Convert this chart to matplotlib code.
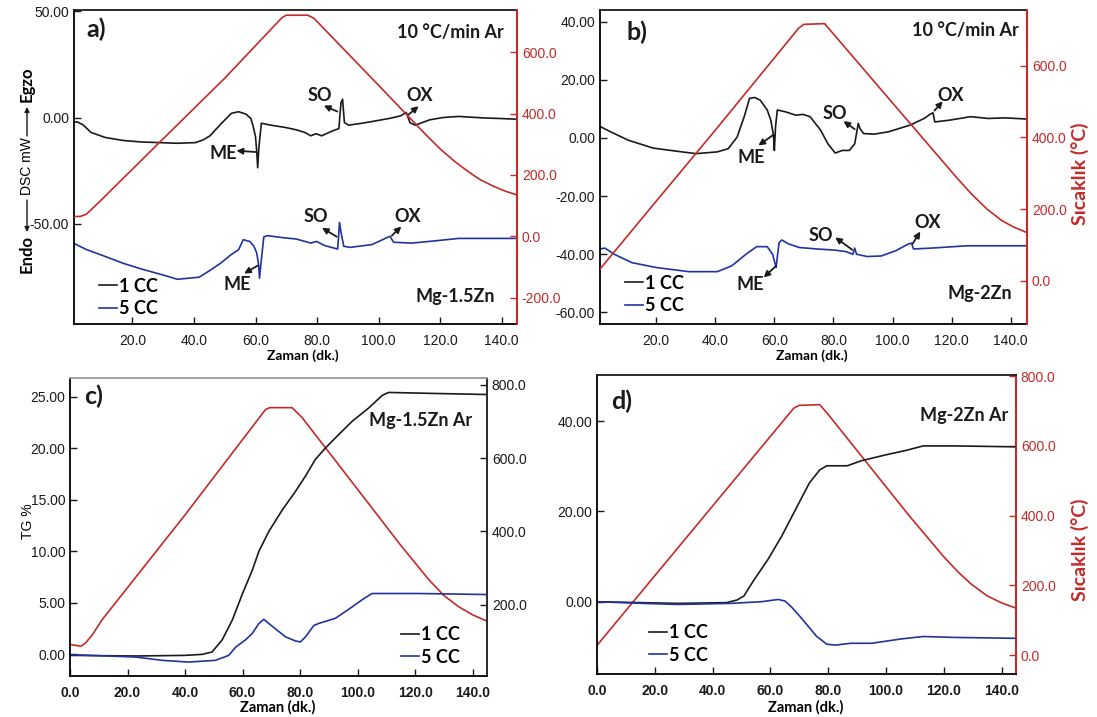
import matplotlib
matplotlib.use("Agg")
import matplotlib.pyplot as plt
from matplotlib.font_manager import FontProperties

# ---------------- DATA ----------------
# Panel a: Mg-1.5Zn DSC
a_temp_t = [1, 3, 5, 10, 30, 50, 68.6, 70, 77, 79, 100, 115, 120, 125, 130, 133, 137, 141, 145]
a_temp_v = [65, 65, 72, 120, 318, 515, 712, 720, 720, 710, 492, 335, 285, 242, 205, 185, 165, 148, 135]

a_cc1_t = [0.8, 2, 4, 6.5, 11.2, 17, 23, 34.6, 40.5, 43, 45.2, 48.7, 52.2, 54.5, 56.9, 58.5, 59.2, 60.0, 60.4, 60.7,
           61.1, 61.9, 65, 69.8, 73.3, 76, 78, 79.7, 81.5, 85, 87.1, 87.5, 87.8, 88.3, 88.9, 90.3, 95, 99, 104,
           107.2, 109, 110.2, 111.9, 116.6, 121, 126, 134.2, 140, 145]
a_cc1_v = [-2.4, -2.0, -3.5, -7, -9.4, -10.8, -11.5, -12.1, -11.8, -10.5, -8.6, -3.1, 2.0, 2.7, 1.6, -0.5, -3.9, -9,
           -16, -23.6, -14, -2.7, -3.6, -4.7, -5.8, -7, -8.6, -7.6, -8.6, -6.3, -5.2, 2, 7, 8.6, -2.4, -3.6, -2.6,
           -1.6, -0.3, 0.8, 2.4, -2.4, -3.6, -1.1, 0, 0.5, -0.2, -0.5, -0.8]

a_cc5_t = [0.8, 5, 11.2, 17, 23, 30, 34.6, 41.7, 45, 48.7, 52, 54.5, 55.5, 56, 58.1, 59.5, 60.4, 61.0, 61.3, 61.9,
           62.7, 63.9, 68.6, 73.3, 78, 79.8, 82.6, 86.7, 87.0, 87.3, 87.8, 88.7, 90.8, 97.8, 101.9, 103.7, 104.9,
           110.7, 118, 126, 135, 145]
a_cc5_v = [-59, -62, -65.3, -68.5, -71.2, -74, -76, -75, -72, -68.4, -64.5, -62.1, -59, -57.4, -58.2, -60.5, -63.7,
           -69, -75.5, -66.8, -56.1, -55.5, -56.4, -57.1, -59, -58.2, -60.2, -61.8, -56, -49.3, -54, -60.5, -61,
           -59.7, -57, -55.8, -58.6, -59, -58, -56.8, -56.8, -56.8]

# Panel b: Mg-2Zn DSC
b_temp_t = [0.9, 20, 40, 68.3, 70, 77, 100, 122, 127, 132, 137, 141, 145.4]
b_temp_v = [32, 222, 420, 705, 715, 717, 496, 285, 240, 200, 168, 150, 135]

b_cc1_t = [0.9, 4.6, 10.6, 19, 28.7, 33.5, 40.7, 44.4, 47.4, 49.8, 51.6, 53.4, 55.2, 57.6, 58.8, 59.7, 60.0, 60.4,
           61.0, 63.7, 67.3, 69.7, 72.1, 75.7, 78.1, 80.6, 83, 85.4, 87.2, 88.4, 89, 90.2, 93.8, 98.6, 105.9, 110.7,
           113.1, 113.7, 114.3, 119.2, 126.4, 132.4, 138, 145.4]
b_cc1_v = [4, 2.1, -0.8, -3.5, -4.8, -5.4, -4.8, -3.7, 0.3, 7.3, 13.6, 13.9, 13, 9.6, 6.1, 0.9, -4.3, 3.8, 9.6, 9,
           7.8, 8.1, 7.3, 2.6, -2, -5.2, -4.3, -4.3, -2, 5, 3.2, 1.5, 1.3, 2.1, 4.4, 6.7, 8.4, 8.6, 5.5, 6.1, 7.3,
           6.7, 6.9, 6.5]

b_cc5_t = [0.9, 2.7, 5.8, 11.8, 20.2, 31.1, 40.7, 45.6, 50.4, 54, 57.6, 59.4, 60.6, 61.0, 61.6, 62.5, 64.9, 68.5,
           74.5, 80.6, 84.2, 86.6, 87.2, 87.8, 91.4, 96.2, 101.1, 105.3, 106.4, 107.1, 113.1, 125.2, 135, 145.4]
b_cc5_v = [-38.2, -37.9, -40, -42.9, -44.6, -46, -46, -44, -40, -37.4, -37.4, -40, -44.6, -41, -36, -35.1, -36.5,
           -37.7, -38.2, -38.6, -39.1, -40, -37.9, -40, -40.8, -40.6, -38.8, -36.5, -36.2, -38.2, -37.9, -37.1,
           -37.1, -37.1]

# Panel c: Mg-1.5Zn TG
c_temp_t = [0, 2.5, 3.7, 5.4, 7.8, 11.2, 40, 68, 69.5, 77.2, 80.7, 100, 115, 125, 130, 135, 140, 145]
c_temp_v = [91, 88, 86, 95, 118, 159, 445, 733, 738, 738, 711, 515, 362, 266, 225, 195, 172, 155]

c_cc1_t = [0, 22.8, 40, 46, 49.4, 52.9, 56.4, 60, 63.3, 65.7, 69.1, 73.8, 78.4, 81.9, 85.3, 88.8, 92.3, 98.1,
           103.9, 108.5, 110.8, 127, 145]
c_cc1_v = [-0.1, -0.16, -0.1, 0, 0.23, 1.4, 3.3, 5.9, 8.1, 10, 11.9, 14, 15.8, 17.3, 18.9, 20, 21, 22.6, 23.9,
           25.1, 25.4, 25.3, 25.2]

c_cc5_t = [0, 22.8, 32, 41.3, 50.6, 55.2, 57.6, 61, 63.3, 65.7, 67.4, 69.1, 74.9, 78.4, 80.1, 81.9, 84.8, 86.5,
           92.3, 98.1, 101.6, 105, 121.3, 145]
c_cc5_v = [-0.03, -0.26, -0.58, -0.75, -0.58, -0.1, 0.7, 1.4, 2.0, 3.0, 3.4, 3.0, 1.7, 1.3, 1.2, 1.7, 2.8, 3.0,
           3.5, 4.6, 5.3, 5.9, 5.9, 5.8]

# Panel d: Mg-2Zn TG
d_temp_t = [0, 68.1, 70, 77.1, 80, 108, 120, 125, 129.6, 135, 140, 144.6]
d_temp_v = [28, 708, 716, 718, 690, 400, 282, 238, 203, 170, 150, 136]

d_cc1_t = [0, 28, 44.8, 48.4, 50.8, 54.4, 59.1, 63.9, 68.7, 73.5, 77.1, 79.5, 86.6, 91.4, 99.8, 106.9, 112.9,
           123.7, 144.6]
d_cc1_v = [0, -0.37, -0.2, 0.37, 1.25, 4.9, 9.3, 14.5, 20.4, 26.3, 29.2, 30.1, 30.1, 31.2, 32.5, 33.5, 34.5,
           34.5, 34.3]

d_cc5_t = [0, 16.1, 28, 46, 56.8, 62.7, 65.1, 67.5, 71.1, 75.9, 79.5, 82.4, 87.8, 95, 105.7, 112.9, 123.7, 144.6]
d_cc5_v = [0, -0.37, -0.6, -0.37, 0, 0.5, 0.15, -1.3, -3.9, -7.6, -9.4, -9.6, -9.2, -9.2, -8.2, -7.7, -7.9, -8.1]

series_labels = ["1 CC", "5 CC"]
ab_xticks = [20, 40, 60, 80, 100, 120, 140]
cd_xticks = [0, 20, 40, 60, 80, 100, 120, 140]

# ---------------- STYLE ----------------
BLACK = "#1a1a1a"
BLUE = "#2233a0"
RED = "#c42a2a"
TFONT = "Liberation Sans"
AFONT = "Lato"
ASIZE = 13

plt.rcParams["font.family"] = [TFONT, "DejaVu Sans"]
fig = plt.figure(figsize=(10.97, 7.17), dpi=100)
W, H = 1097.0, 717.0


def make_axes(l, r, t, b):
    return fig.add_axes([l / W, 1 - b / H, (r - l) / W, (b - t) / H])


def style_axes(ax, ax2, right_color, xticks, bold_x, top_color=BLACK):
    ax.tick_params(direction="in", length=5, width=1, labelsize=10, colors=BLACK)
    ax2.tick_params(direction="in", length=5, width=1, labelsize=10, colors=right_color)
    ax.spines["right"].set_visible(False)
    ax2.spines["left"].set_visible(False)
    ax2.spines["top"].set_visible(False)
    ax2.spines["bottom"].set_visible(False)
    ax2.spines["right"].set_color(right_color)
    ax2.spines["right"].set_linewidth(1.5)
    for s in ["left", "bottom", "top"]:
        ax.spines[s].set_linewidth(1.3)
    ax.spines["top"].set_color(top_color)
    ax.set_xticks(xticks)
    ax.set_xticklabels([f"{v:.1f}" for v in xticks],
                       fontweight="bold" if bold_x else "normal")
    ax.tick_params(axis="x", pad=7)


def add_legend(ax, x, y):
    fp = FontProperties(family=AFONT, weight="bold", size=13)
    leg = ax.legend(series_labels, loc="lower left", bbox_to_anchor=(x, y), frameon=False,
                    handlelength=1.0, handletextpad=0.1, labelspacing=0.3, prop=fp)
    for txt in leg.get_texts():
        txt.set_fontweight("bold")
    return leg


def arrow(ax, tail, head):
    ax.annotate("", xy=head, xytext=tail,
                arrowprops=dict(arrowstyle="-|>", lw=1.3, color=BLACK, mutation_scale=9,
                                shrinkA=0, shrinkB=0))


def label(ax, x, y, s, size=ASIZE, ha="center"):
    ax.text(x, y, s, ha=ha, va="center", fontsize=size, fontweight="bold", family=AFONT, color=BLACK)


# ---------------- PANEL a ----------------
axa = make_axes(74, 517, 10, 324)
axa2 = axa.twinx()
axa.plot(a_cc1_t, a_cc1_v, color=BLACK, lw=1.2)
axa.plot(a_cc5_t, a_cc5_v, color=BLUE, lw=1.2)
axa2.plot(a_temp_t, a_temp_v, color=RED, lw=1.2)
axa.set_xlim(1, 145)
axa.set_ylim(-97, 50.5)
axa.set_yticks([-50, 0, 50])
axa.set_yticklabels([f"{v:.2f}" for v in [-50, 0, 50]])
axa2.set_ylim(-285, 737)
axa2.set_yticks([-200, 0, 200, 400, 600])
axa2.set_yticklabels([f"{v:.1f}" for v in [-200, 0, 200, 400, 600]])
style_axes(axa, axa2, RED, ab_xticks, False)
add_legend(axa, 0.02, -0.03)
label(axa, 5, 41.5, "a)", size=18, ha="left")
label(axa, 140.6, 40, "10 °C/min Ar", ha="right")
label(axa, 137.7, -84, "Mg-1.5Zn", ha="right")
label(axa, 49.5, -16.8, "ME")
arrow(axa, (60.0, -16.2), (53.8, -15.6))
label(axa, 81, 10.2, "SO")
arrow(axa, (86.6, 2.8), (82.2, 5.6))
label(axa, 113.5, 10.2, "OX")
arrow(axa, (109.6, 1.2), (113, 5.3))
label(axa, 79.7, -46.4, "SO")
arrow(axa, (86.4, -56), (81.6, -51.8))
label(axa, 109.5, -46.4, "OX")
arrow(axa, (104.3, -55.5), (107.4, -51.2))
label(axa, 54, -78.6, "ME")
arrow(axa, (60.8, -69.5), (56.3, -73.3))

# composite y label for a
xl = 27 / W
fig.text(xl, 1 - 84 / H, "Egzo", rotation=90, ha="center", va="center", fontsize=12,
         fontweight="bold", family=AFONT)
fig.text(xl, 1 - 166 / H, "DSC mW", rotation=90, ha="center", va="center", fontsize=10)
fig.text(xl, 1 - 254 / H, "Endo", rotation=90, ha="center", va="center", fontsize=12,
         fontweight="bold", family=AFONT)
axa.annotate("", xy=(xl, 1 - 107 / H), xytext=(xl, 1 - 136 / H), xycoords="figure fraction",
             arrowprops=dict(arrowstyle="-|>", lw=1.0, color=BLACK, mutation_scale=7, shrinkA=0, shrinkB=0),
             annotation_clip=False)
axa.annotate("", xy=(xl, 1 - 232 / H), xytext=(xl, 1 - 200 / H), xycoords="figure fraction",
             arrowprops=dict(arrowstyle="-|>", lw=1.0, color=BLACK, mutation_scale=7, shrinkA=0, shrinkB=0),
             annotation_clip=False)
fig.text(303 / W, 1 - 356 / H, "Zaman (dk.)", ha="center", va="center", fontsize=10,
         fontweight="bold", family=AFONT)

# ---------------- PANEL b ----------------
axb = make_axes(600, 1027, 10, 324)
axb2 = axb.twinx()
axb.plot(b_cc1_t, b_cc1_v, color=BLACK, lw=1.2)
axb.plot(b_cc5_t, b_cc5_v, color=BLUE, lw=1.2)
axb2.plot(b_temp_t, b_temp_v, color=RED, lw=1.2)
axb.set_xlim(1, 145.5)
axb.set_ylim(-64, 44)
bt = [-60, -40, -20, 0, 20, 40]
axb.set_yticks(bt)
axb.set_yticklabels([f"{v:.2f}" for v in bt])
axb2.set_ylim(-120, 755)
bt2 = [0, 200, 400, 600]
axb2.set_yticks(bt2)
axb2.set_yticklabels([f"{v:.1f}" for v in bt2])
style_axes(axb, axb2, RED, ab_xticks, False)
add_legend(axb, 0.02, -0.02)
label(axb, 10, 36.4, "b)", size=18, ha="left")
label(axb, 142.7, 37, "10 °C/min Ar", ha="right")
label(axb, 140.3, -53.6, "Mg-2Zn", ha="right")
label(axb, 52.2, -6.6, "ME")
arrow(axb, (59.6, 1.0), (54.6, -2.6))
label(axb, 80.6, 8.4, "SO")
arrow(axb, (87.2, 3.0), (83.4, 5.8))
label(axb, 119.8, 14.7, "OX")
arrow(axb, (114.2, 9.4), (117.0, 12.6))
label(axb, 75.7, -33.6, "SO")
arrow(axb, (86.4, -38.5), (80.6, -34.2))
label(axb, 111.9, -29, "OX")
arrow(axb, (106.8, -36.4), (109.4, -32.2))
label(axb, 51.8, -50.3, "ME")
arrow(axb, (60.6, -44.0), (56.4, -48.0))
fig.text(1080 / W, 1 - 174 / H, "Sıcaklık (°C)", rotation=90, ha="center", va="center",
         fontsize=14, fontweight="bold", family=AFONT, color=RED)
fig.text(812 / W, 1 - 356 / H, "Zaman (dk.)", ha="center", va="center", fontsize=10,
         fontweight="bold", family=AFONT)

# ---------------- PANEL c ----------------
axc = make_axes(70, 487, 378, 676)
axc2 = axc.twinx()
axc2.plot(c_temp_t, c_temp_v, color=RED, lw=1.2)
axc.plot(c_cc1_t, c_cc1_v, color=BLACK, lw=1.2)
axc.plot(c_cc5_t, c_cc5_v, color=BLUE, lw=1.2)
axc.set_zorder(axc2.get_zorder() + 1)
axc.patch.set_visible(False)
axc.set_xlim(0, 145)
axc.set_ylim(-2.1, 26.8)
ct = [0, 5, 10, 15, 20, 25]
axc.set_yticks(ct)
axc.set_yticklabels([f"{v:.2f}" for v in ct])
axc2.set_ylim(5, 819)
ct2 = [200, 400, 600, 800]
axc2.set_yticks(ct2)
axc2.set_yticklabels([f"{v:.1f}" for v in ct2])
style_axes(axc, axc2, BLACK, cd_xticks, True, top_color="#9a9a9a")
axc2.spines["right"].set_linewidth(1.3)
add_legend(axc, 0.755, -0.02)
label(axc, 5, 25, "c)", size=18, ha="left")
label(axc, 140, 22.7, "Mg-1.5Zn Ar", ha="right")
fig.text(28 / W, 1 - 521 / H, "TG %", rotation=90, ha="center", va="center", fontsize=10)
fig.text(278 / W, 1 - 707 / H, "Zaman (dk.)", ha="center", va="center", fontsize=10.5,
         fontweight="bold", family=AFONT)

# ---------------- PANEL d ----------------
axd = make_axes(597, 1016, 375, 674)
axd2 = axd.twinx()
axd2.plot(d_temp_t, d_temp_v, color=RED, lw=1.2)
axd.plot(d_cc1_t, d_cc1_v, color=BLACK, lw=1.2)
axd.plot(d_cc5_t, d_cc5_v, color=BLUE, lw=1.2)
axd.set_zorder(axd2.get_zorder() + 1)
axd.patch.set_visible(False)
axd.set_xlim(0, 145)
axd.set_ylim(-16, 50.2)
dt = [0, 20, 40]
axd.set_yticks(dt)
axd.set_yticklabels([f"{v:.2f}" for v in dt])
axd2.set_ylim(-54, 803)
dt2 = [0, 200, 400, 600, 800]
axd2.set_yticks(dt2)
axd2.set_yticklabels([f"{v:.1f}" for v in dt2])
style_axes(axd, axd2, RED, cd_xticks, True)
add_legend(axd, 0.085, -0.02)
label(axd, 5, 44.3, "d)", size=18, ha="left")
label(axd, 142.2, 41.3, "Mg-2Zn Ar", ha="right")
fig.text(1080 / W, 1 - 550 / H, "Sıcaklık (°C)", rotation=90, ha="center", va="center",
         fontsize=14, fontweight="bold", family=AFONT, color=RED)
fig.text(806 / W, 1 - 707 / H, "Zaman (dk.)", ha="center", va="center", fontsize=10.5,
         fontweight="bold", family=AFONT)

fig.savefig("out.png", dpi=100)
